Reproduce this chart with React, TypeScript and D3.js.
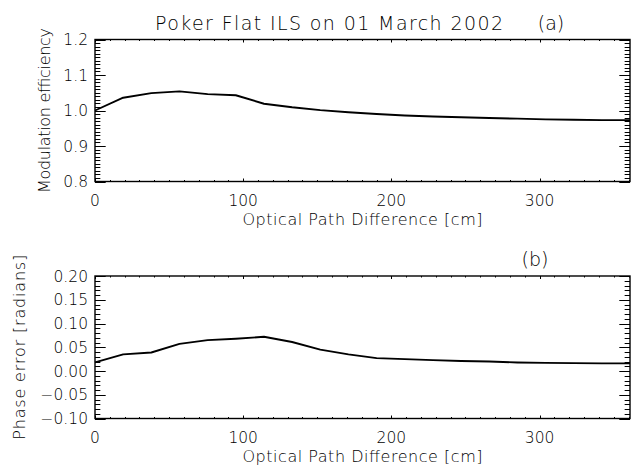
import * as d3 from "d3";

// optical path difference [cm], sampled every 19 cm
const OPD = [0, 19, 38, 57, 76, 95, 114, 133, 152, 171, 190, 209, 228, 247, 266, 285, 304, 323, 342, 361];
// (a) modulation efficiency
const MOD_EFF = [1.0, 1.036, 1.049, 1.054, 1.046, 1.043, 1.019, 1.009, 1.001, 0.995, 0.99, 0.986, 0.983, 0.981, 0.979, 0.977, 0.975, 0.974, 0.973, 0.973];
// (b) phase error [radians]
const PHASE_ERR = [0.018, 0.035, 0.039, 0.057, 0.065, 0.068, 0.072, 0.061, 0.045, 0.035, 0.027, 0.025, 0.023, 0.021, 0.02, 0.018, 0.017, 0.0165, 0.016, 0.016];

const X_TICKS = [0, 100, 200, 300];
const EFF_TICKS = [0.8, 0.9, 1.0, 1.1, 1.2];
const PHASE_TICKS = [-0.1, -0.05, 0, 0.05, 0.1, 0.15, 0.2];

const W = 631;
const H = 468;
const LEFT = 95;
const RIGHT = 630;
const FONT = "'DejaVu Sans', sans-serif";

const x = d3.scaleLinear().domain([0, 361]).range([LEFT, RIGHT]);
const xMinor = d3.range(0, 361, 10);

function Panel({ values, domain, ticks, minorStep, fmt, top, bottom, ytitle, ytitleX, ytitleLen }) {
  const y = d3.scaleLinear().domain(domain).range([bottom, top]);
  const n0 = Math.round(domain[0] / minorStep);
  const n1 = Math.round(domain[1] / minorStep);
  const yMinor = d3.range(n0, n1 + 1).map((i) => i * minorStep);
  const plotW = RIGHT - LEFT;
  const plotH = bottom - top;
  const yMajLen = 0.02 * plotW;
  const xMajLen = Math.max(3, 0.02 * plotH);

  const path = d3
    .line<number>()
    .x((_, i) => x(OPD[i]))
    .y((d) => y(d))(values);

  const isMajorX = (v) => X_TICKS.includes(v);
  const isMajorY = (v) => ticks.some((t) => Math.abs(t - v) < 1e-9);

  // tick marks drawn as one path, inward on all four sides (IDL style)
  let tickD = "";
  xMinor.forEach((v) => {
    const len = isMajorX(v) ? xMajLen : xMajLen / 2;
    const px = Math.round(x(v)) + 0.5;
    tickD += `M${px},${bottom}V${bottom - len}M${px},${top}V${top + len}`;
  });
  yMinor.forEach((v) => {
    const len = isMajorY(v) ? yMajLen : yMajLen / 2;
    const py = Math.round(y(v)) + 0.5;
    tickD += `M${LEFT},${py}H${LEFT + len}M${RIGHT},${py}H${RIGHT - len}`;
  });

  return (
    <g>
      <path d={tickD} fill="none" stroke="#000" strokeWidth={1} />
      <rect x={LEFT} y={top} width={plotW} height={plotH} fill="none" stroke="#000" strokeWidth={1.4} />
      {ticks.map((t) => (
        <text key={"yl" + t} x={88} y={y(t)} dy="0.36em" textAnchor="end" fontSize={15.5}>
          {fmt(t)}
        </text>
      ))}
      {X_TICKS.map((t) => (
        <text key={"xl" + t} x={x(t)} y={bottom + 24} textAnchor="middle" fontSize={15.5}>
          {t}
        </text>
      ))}
      <text x={(LEFT + RIGHT) / 2} y={bottom + 43} textAnchor="middle" fontSize={16} textLength={240} lengthAdjust="spacing">
        Optical Path Difference [cm]
      </text>
      <text
        transform={`translate(${ytitleX},${(top + bottom) / 2}) rotate(-90)`}
        textAnchor="middle"
        dy="0.36em"
        fontSize={16}
        textLength={ytitleLen}
        lengthAdjust="spacing"
      >
        {ytitle}
      </text>
      <path d={path ?? ""} fill="none" stroke="#000" strokeWidth={1.9} strokeLinejoin="round" />
    </g>
  );
}

export default function App() {
  return (
    <svg
      width={W}
      height={H}
      style={{ position: "absolute", left: 0, top: 0, background: "#fff" }}
      fontFamily={FONT}
      fontWeight={300}
      fill="#000"
    >
      <text x={329} y={30} textAnchor="middle" fontSize={19} textLength={348} lengthAdjust="spacing">
        Poker Flat ILS on 01 March 2002
      </text>
      <text x={551} y={30} textAnchor="middle" fontSize={19}>
        (a)
      </text>
      <text x={535} y={266} textAnchor="middle" fontSize={19}>
        (b)
      </text>
      <Panel
        values={MOD_EFF}
        domain={[0.8, 1.2]}
        ticks={EFF_TICKS}
        minorStep={0.01}
        fmt={d3.format(".1f")}
        top={39.5}
        bottom={181.5}
        ytitle="Modulation efficiency"
        ytitleX={44}
        ytitleLen={165}
      />
      <Panel
        values={PHASE_ERR}
        domain={[-0.1, 0.2]}
        ticks={PHASE_TICKS}
        minorStep={0.01}
        fmt={d3.format(".2f")}
        top={276}
        bottom={418.5}
        ytitle="Phase error [radians]"
        ytitleX={19}
        ytitleLen={185}
      />
    </svg>
  );
}
